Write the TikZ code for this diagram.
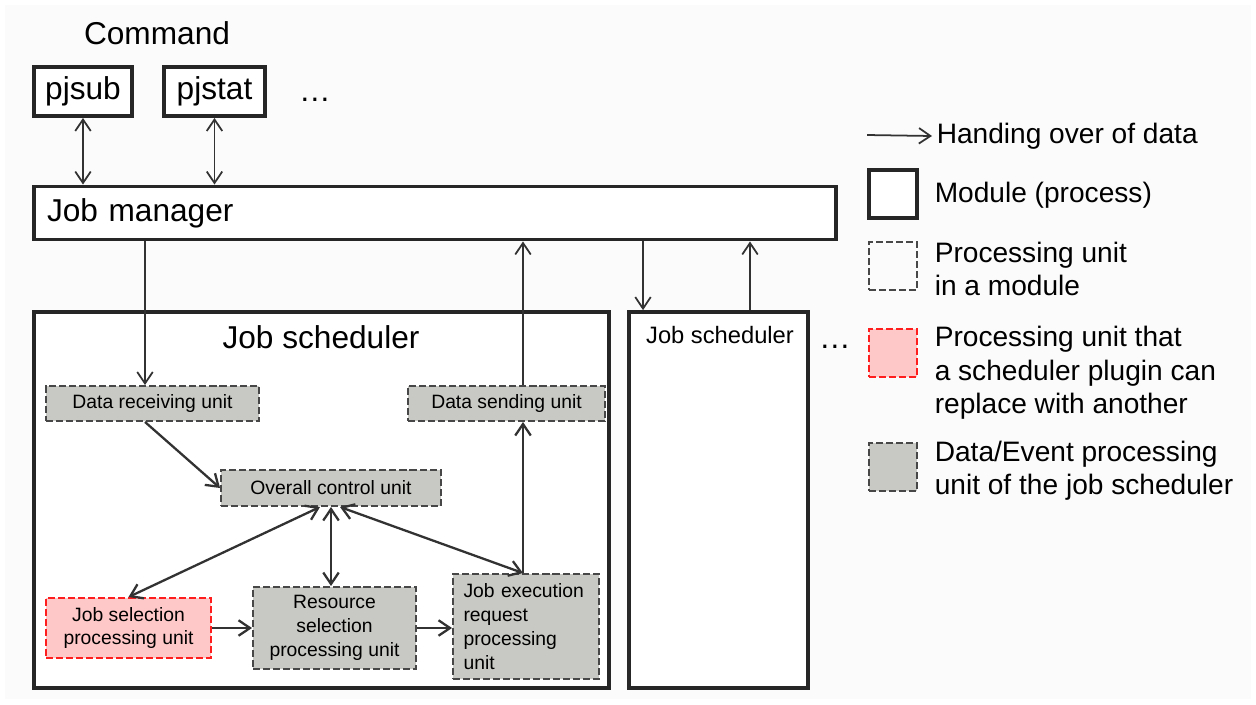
\documentclass[tikz,border=0pt]{standalone}
\usepackage{fontspec}
\setmainfont{Liberation Sans}
\usetikzlibrary{arrows.meta,calc}

\definecolor{unitgray}{RGB}{200,200,196}
\definecolor{plugpink}{RGB}{255,200,200}
\definecolor{plugred}{RGB}{255,30,30}
\definecolor{linegray}{RGB}{50,50,50}
\definecolor{paper}{RGB}{251,251,252}

\begin{document}
\begin{tikzpicture}[x=0.02cm,y=-0.02cm,
    >={Straight Barb[length=2.3mm,width=3.1mm]},
    module/.style={draw=black!85,line width=2.2pt,fill=white,inner sep=0pt},
    unit/.style={draw=black!72,line width=1.1pt,dash pattern=on 4pt off 1.7pt,
      fill=unitgray,inner sep=0pt,align=center,font=\fontsize{11}{13.5}\selectfont},
    plugunit/.style={unit,draw=plugred,fill=plugpink},
    big/.style={font=\fontsize{18}{21}\selectfont},
    legtext/.style={anchor=west,align=left,inner sep=2.5pt,font=\fontsize{16}{19}\selectfont},
    flow/.style={draw=linegray,line width=1pt},
    inflow/.style={flow,line width=1.3pt}]
  \useasboundingbox (0,0) rectangle (1256,704);
  \path[fill=paper] (5,5) rectangle (1251,699);

  % commands and the job manager
  \node[big] (cmd) at (157,33) {Command};
  \node[module,big,minimum width=1.96cm,minimum height=0.98cm] (pjsub) at (83,91.5) {pjsub};
  \node[module,big,minimum width=2.02cm,minimum height=0.98cm] (pjstat) at (214.5,91.5) {pjstat};
  \node[big] (cmddots) at (315,100) {\dots};
  \node[module,big,text width=15.52cm,inner xsep=0.26cm,minimum height=1.06cm,align=left]
    (jm) at (435,213) {Job manager};

  % job schedulers
  \node[module,minimum width=11.5cm,minimum height=7.52cm] (sched) at (321.5,500) {};
  \node[big] (schedtitle) at (321,337) {Job scheduler};
  \node[module,minimum width=3.58cm,minimum height=7.52cm] (sched2) at (718.5,500) {};
  \node[font=\fontsize{13.5}{16}\selectfont] (sched2title) at (720,335) {Job scheduler};
  \node[big] (scheddots) at (835,347) {\dots};

  % units inside the scheduler
  \node[unit,minimum width=4.26cm,minimum height=0.7cm] (recv) at (152.5,403.5) {Data receiving unit};
  \node[unit,minimum width=3.94cm,minimum height=0.7cm] (send) at (506.5,403.5) {Data sending unit};
  \node[unit,minimum width=4.4cm,minimum height=0.72cm] (ctrl) at (331,488) {Overall control unit};
  \node[plugunit,minimum width=3.3cm,minimum height=1.2cm] (jobsel) at (128.5,628)
    {Job selection\\processing unit};
  \node[unit,minimum width=3.26cm,minimum height=1.64cm] (ressel) at (334.5,628)
    {Resource\\selection\\processing unit};
  \node[unit,minimum width=2.92cm,minimum height=2.1cm,align=left,text width=2.5cm]
    (jobexec) at (526,626.5) {Job execution\\request\\processing\\unit};

  % legend
  \coordinate (legtail) at (867,135);
  \node[legtext] (legflow) at (932,136) {Handing over of data};
  \node[module,minimum width=0.96cm,minimum height=0.96cm] (legmod) at (893,194) {};
  \node[legtext] (legmodtext) at (930,195) {Module (process)};
  \node[unit,fill=none,minimum width=0.96cm,minimum height=0.96cm] (legpu) at (893,266) {};
  \node[legtext] (legputext) at (930,269) {Processing unit\\in a module};
  \node[plugunit,minimum width=0.96cm,minimum height=0.96cm] (legplug) at (893,353) {};
  \node[legtext] (legplugtext) at (930,373) {Processing unit that\\a scheduler plugin can\\replace with another};
  \node[unit,minimum width=0.96cm,minimum height=0.96cm] (leggray) at (893,467) {};
  \node[legtext] (leggraytext) at (930,471) {Data/Event processing\\unit of the job scheduler};

  % connectors
  \coordinate (recvx) at (145,0);
  \coordinate (sendx) at (523,0);
  \coordinate (downx) at (643,0);
  \coordinate (upx) at (750,0);
  \draw[flow,->] (legtail) -- (legflow.west);
  \draw[flow,<->] (pjsub.south) -- (pjsub.south |- jm.north);
  \draw[flow,<->] (pjstat.south) -- (pjstat.south |- jm.north);
  \draw[flow,->] (recvx |- jm.south) -- (recvx |- recv.north);
  \draw[flow,->] (sendx |- send.north) -- (sendx |- jm.south);
  \draw[flow,->] (downx |- jm.south) -- (downx |- sched2.north);
  \draw[flow,->] (upx |- sched2.north) -- (upx |- jm.south);

  \draw[inflow,->] (recvx |- recv.south) -- (ctrl.west);
  \draw[inflow,<->] ($(ctrl.south)+(-11,0)$) -- (jobsel.north);
  \draw[inflow,<->] (ctrl.south) -- (ctrl.south |- ressel.north);
  \draw[inflow,<->] ($(ctrl.south)+(9,0)$) -- (sendx |- jobexec.north);
  \draw[inflow,->] (sendx |- jobexec.north) -- (sendx |- send.south);
  \draw[inflow,->] (jobsel.east) -- (ressel.west);
  \draw[inflow,->] (ressel.east) -- (jobexec.west |- ressel.east);
\end{tikzpicture}
\end{document}
